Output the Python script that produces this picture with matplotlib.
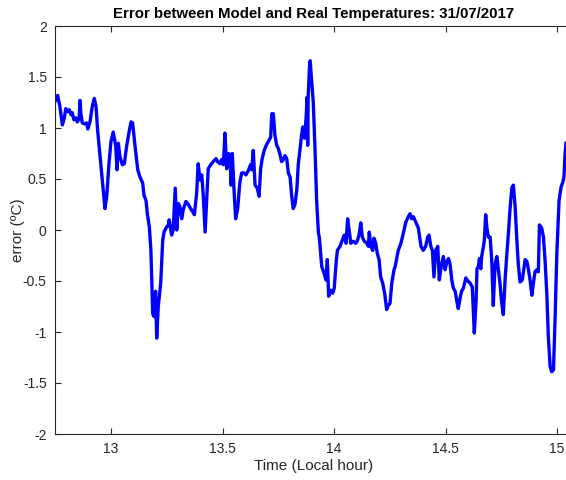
import numpy as np
import matplotlib
matplotlib.use('Agg')
import matplotlib.pyplot as plt

# time (local hour) and error values
time_h = [
    12.749, 12.761, 12.771, 12.782, 12.791, 12.797, 12.806, 12.813, 12.821, 12.826,
    12.834, 12.842, 12.849, 12.857, 12.861, 12.865, 12.871, 12.880, 12.891, 12.896,
    12.906, 12.916, 12.925, 12.933, 12.940, 12.951, 12.961, 12.973, 12.981, 12.991,
    13.000, 13.010, 13.021, 13.027, 13.033, 13.040, 13.051, 13.060, 13.070, 13.081,
    13.090, 13.097, 13.108, 13.120, 13.130, 13.142, 13.148, 13.157, 13.163, 13.172,
    13.179, 13.187, 13.194, 13.200, 13.205, 13.212, 13.223, 13.232, 13.238, 13.247,
    13.257, 13.261, 13.272, 13.279, 13.288, 13.295, 13.302, 13.309, 13.317, 13.324,
    13.336, 13.347, 13.357, 13.366, 13.374, 13.384, 13.391, 13.399, 13.407, 13.414,
    13.422, 13.429, 13.436, 13.447, 13.459, 13.471, 13.478, 13.489, 13.496, 13.504,
    13.511, 13.519, 13.526, 13.534, 13.538, 13.544, 13.552, 13.559, 13.568, 13.578,
    13.586, 13.596, 13.605, 13.613, 13.619, 13.626, 13.631, 13.638, 13.646, 13.656,
    13.664, 13.671, 13.678, 13.687, 13.698, 13.709, 13.716, 13.721, 13.728, 13.735,
    13.743, 13.750, 13.758, 13.765, 13.773, 13.780, 13.788, 13.795, 13.803, 13.810,
    13.817, 13.825, 13.833, 13.840, 13.847, 13.854, 13.860, 13.868, 13.876, 13.879,
    13.882, 13.884, 13.887, 13.890, 13.893, 13.900, 13.907, 13.915, 13.922, 13.930,
    13.934, 13.945, 13.955, 13.964, 13.970, 13.976, 13.985, 13.994, 14.001, 14.009,
    14.015, 14.027, 14.037, 14.046, 14.054, 14.061, 14.069, 14.075, 14.087, 14.097,
    14.104, 14.112, 14.120, 14.127, 14.136, 14.147, 14.154, 14.158, 14.165, 14.174,
    14.179, 14.187, 14.194, 14.202, 14.209, 14.218, 14.227, 14.236, 14.243, 14.251,
    14.259, 14.269, 14.274, 14.288, 14.300, 14.311, 14.321, 14.333, 14.341, 14.348,
    14.356, 14.366, 14.378, 14.390, 14.400, 14.411, 14.420, 14.426, 14.434, 14.441,
    14.448, 14.456, 14.465, 14.472, 14.480, 14.490, 14.498, 14.506, 14.513, 14.520,
    14.528, 14.535, 14.543, 14.550, 14.557, 14.565, 14.572, 14.580, 14.591, 14.600,
    14.610, 14.620, 14.629, 14.637, 14.641, 14.647, 14.652, 14.658, 14.662, 14.670,
    14.674, 14.680, 14.685, 14.692, 14.700, 14.707, 14.714, 14.722, 14.730, 14.737,
    14.744, 14.752, 14.759, 14.767, 14.774, 14.782, 14.789, 14.797, 14.804, 14.812,
    14.819, 14.826, 14.834, 14.844, 14.857, 14.865, 14.871, 14.879, 14.887, 14.894,
    14.901, 14.909, 14.916, 14.921, 14.931, 14.939, 14.946, 14.954, 14.961, 14.969,
    14.976, 14.984, 14.991, 14.999, 15.009, 15.018, 15.026, 15.031, 15.036, 15.040,
]
error_c = [
    1.26, 1.32, 1.21, 1.03, 1.10, 1.19, 1.16, 1.18, 1.13, 1.15,
    1.08, 1.10, 1.06, 1.09, 1.27, 1.14, 1.05, 1.04, 1.05, 0.99,
    1.06, 1.21, 1.29, 1.21, 0.98, 0.72, 0.49, 0.21, 0.33, 0.65,
    0.87, 0.96, 0.83, 0.59, 0.85, 0.72, 0.64, 0.65, 0.82, 0.96,
    1.06, 1.05, 0.82, 0.59, 0.52, 0.46, 0.34, 0.29, 0.16, 0.03,
    -0.20, -0.82, -0.85, -0.60, -1.06, -0.75, -0.52, -0.10, -0.02, 0.02,
    0.05, 0.10, -0.05, 0.00, 0.41, 0.00, 0.26, 0.23, 0.11, 0.20,
    0.28, 0.25, 0.21, 0.18, 0.15, 0.36, 0.65, 0.49, 0.54, 0.33,
    -0.02, 0.29, 0.60, 0.64, 0.67, 0.70, 0.67, 0.65, 0.69, 0.64,
    0.95, 0.60, 0.75, 0.74, 0.44, 0.75, 0.38, 0.11, 0.21, 0.47,
    0.56, 0.56, 0.54, 0.57, 0.60, 0.64, 0.59, 0.78, 0.44, 0.41,
    0.33, 0.60, 0.70, 0.78, 0.84, 0.88, 0.91, 1.14, 1.14, 0.93,
    0.83, 0.80, 0.74, 0.67, 0.69, 0.73, 0.70, 0.56, 0.52, 0.34,
    0.21, 0.25, 0.39, 0.65, 0.78, 0.92, 1.01, 0.90, 1.14, 1.30,
    0.83, 1.30, 1.45, 1.60, 1.66, 1.45, 1.25, 0.78, 0.29, -0.03,
    -0.07, -0.36, -0.42, -0.49, -0.29, -0.65, -0.59, -0.62, -0.57, -0.33,
    -0.20, -0.16, -0.10, -0.05, -0.13, 0.11, -0.02, -0.13, -0.11, -0.13,
    -0.11, -0.05, 0.07, -0.07, -0.11, -0.13, -0.16, -0.02, -0.16, -0.20,
    -0.08, -0.13, -0.23, -0.29, -0.46, -0.52, -0.62, -0.78, -0.74, -0.72,
    -0.52, -0.39, -0.36, -0.20, -0.13, -0.03, 0.07, 0.13, 0.16, 0.11,
    0.13, 0.08, 0.02, -0.16, -0.20, -0.16, -0.07, -0.05, -0.16, -0.20,
    -0.46, -0.20, -0.16, -0.49, -0.36, -0.26, -0.39, -0.31, -0.28, -0.33,
    -0.49, -0.57, -0.60, -0.69, -0.77, -0.67, -0.60, -0.57, -0.47, -0.50,
    -0.52, -0.56, -1.01, -0.69, -0.38, -0.36, -0.28, -0.38, -0.26, -0.16,
    -0.10, 0.15, 0.03, -0.07, -0.07, -0.29, -0.74, -0.34, -0.26, -0.39,
    -0.52, -0.72, -0.83, -0.49, -0.26, -0.03, 0.20, 0.41, 0.44, 0.23,
    -0.07, -0.33, -0.51, -0.49, -0.29, -0.31, -0.38, -0.49, -0.64, -0.52,
    -0.41, -0.39, -0.41, 0.05, 0.02, -0.07, -0.29, -0.62, -1.05, -1.34,
    -1.39, -1.37, -0.88, -0.23, 0.29, 0.42, 0.47, 0.52, 0.75, 0.85,
]

x_ticks = [13, 13.5, 14, 14.5, 15]
x_tick_labels = ['13', '13.5', '14', '14.5', '15']
y_ticks = [-2, -1.5, -1, -0.5, 0, 0.5, 1, 1.5, 2]
y_tick_labels = ['-2', '-1.5', '-1', '-0.5', '0', '0.5', '1', '1.5', '2']

plt.rcParams['font.family'] = ['Liberation Sans', 'DejaVu Sans']
plt.rcParams['axes.unicode_minus'] = False

fig = plt.figure(figsize=(5.66, 4.80), dpi=100)
ax = fig.add_axes([55 / 566, 46 / 480, 517 / 566, 408 / 480])

ax.plot(time_h, error_c, color='#0000ff', linewidth=2.4)

ax.set_xlim(12.749, 15.067)
ax.set_ylim(-2, 2)
ax.set_xticks(x_ticks)
ax.set_xticklabels(x_tick_labels)
ax.set_yticks(y_ticks)
ax.set_yticklabels(y_tick_labels)

ax.tick_params(direction='in', top=True, right=True, length=4, width=0.8,
               colors='#262626', labelsize=10, pad=6)
for s in ax.spines.values():
    s.set_color('#262626')
    s.set_linewidth(0.8)

ax.set_xlabel('Time (Local hour)', fontsize=11, color='#262626', labelpad=2)
ax.set_ylabel('error (ºC)', fontsize=11, color='#262626')
ax.yaxis.set_label_coords(-0.058, 0.5)
ax.set_title('Error between Model and Real Temperatures: 31/07/2017',
             fontsize=10.8, fontweight='bold', color='black', pad=6)

fig.savefig('out.png', dpi=100)
